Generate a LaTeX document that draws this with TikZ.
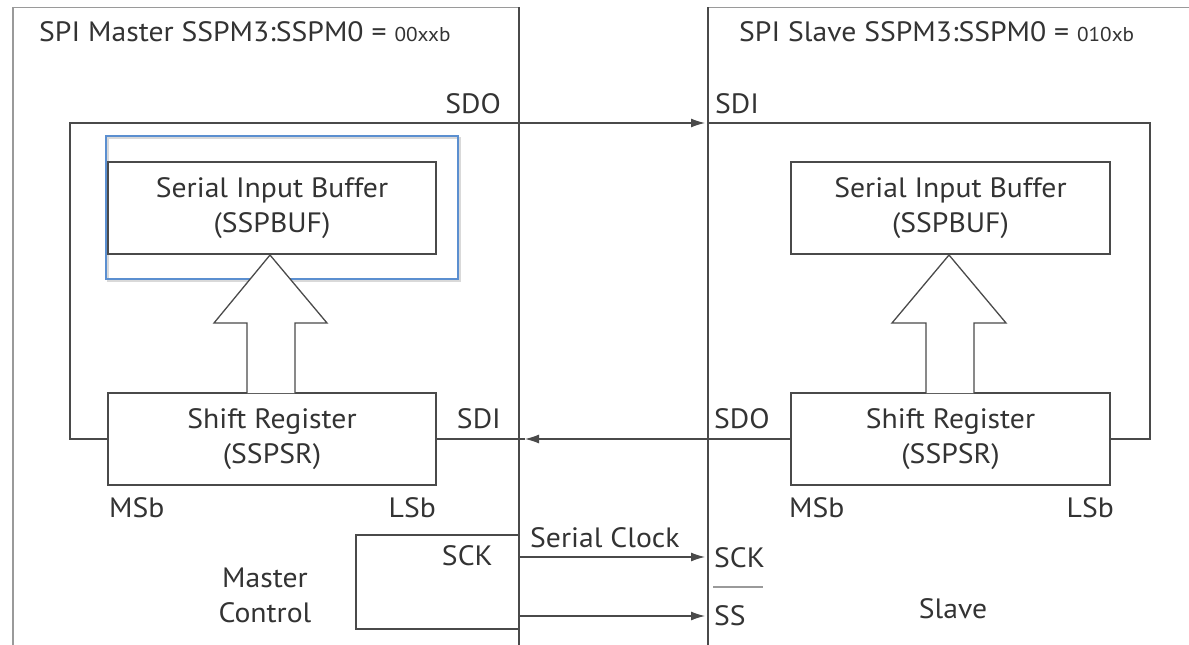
\documentclass[tikz,border=0pt]{standalone}
\usepackage{fontspec}
\setmainfont[FakeStretch=1.06]{PT Sans}
\usetikzlibrary{arrows.meta,positioning,calc}
\definecolor{ln}{HTML}{4A4A4A}
\definecolor{frm}{HTML}{9A9A9A}
\definecolor{txt}{HTML}{333333}
\definecolor{hl}{HTML}{5B8FD0}
\tikzset{
  lbl/.style={font=\fontsize{28}{35}\selectfont, text=txt, inner sep=0pt},
  blk/.style={draw=ln, line width=1.3pt, minimum width=328pt, minimum height=92pt, align=center, lbl},
  wire/.style={draw=ln, line width=1.2pt},
  tip/.style={-{Latex[length=14pt,width=9pt]}},
  hollow/.style={draw=ln, line width=1.3pt, fill=white},
}
\begin{document}
\begin{tikzpicture}[x=1pt,y=-1pt]
\useasboundingbox (0,0) rectangle (1189,645);
% frames
\draw[frm, line width=2pt] (12.5,645) -- (12.5,7);
\draw[frm, line width=0.8pt] (12.5,7) -- (519,7);
\draw[frm, line width=0.8pt] (708,7) -- (1189,7);
\draw[wire] (519,7) -- (519,645);
\draw[wire] (708,7) -- (708,645);
% titles
\node[lbl, anchor=base west] (mt) at (39,41) {SPI Master SSPM3:SSPM0 = {\fontsize{20}{24}\selectfont 00xxb}};
\node[lbl, anchor=base west] (st) at (739,41) {SPI Slave SSPM3:SSPM0 = {\fontsize{20}{24}\selectfont 010xb}};
% highlight
\draw[gray!30, line width=2pt] (108,138) rectangle (460,281);
\draw[hl, line width=1.3pt] (106,136) rectangle (458,279);
% blocks
\node[blk] (mbuf) at (272,208) {Serial Input Buffer\\(SSPBUF)};
\node[blk] (msr) at (272,439) {Shift Register\\(SSPSR)};
\node[blk, minimum width=319pt] (sbuf) at (950.5,208) {Serial Input Buffer\\(SSPBUF)};
\node[blk, minimum width=319pt] (ssr) at (950.5,439) {Shift Register\\(SSPSR)};
% hollow arrows
\draw[hollow] (247,393) -- (247,323) -- (214,323) -- (270,255) -- (327,323) -- (295,323) -- (295,393);
\draw[hollow] (926,393) -- (926,323) -- (892,323) -- (949,255) -- (1006,323) -- (974,323) -- (974,393);
% labels
\node[lbl, anchor=base east] (msdo) at (501,113) {SDO};
\node[lbl, anchor=base west] (ssdi) at (715,113) {SDI};
\node[lbl, anchor=base east] (msdi) at (501,428) {SDI};
\node[lbl, anchor=base west] (ssdo) at (714,428) {SDO};
\node[lbl, anchor=base west] (mmsb) at (109,517) {MSb};
\node[lbl, anchor=base east] (mlsb) at (436,517) {LSb};
\node[lbl, anchor=base west] (smsb) at (789,517) {MSb};
\node[lbl, anchor=base east] (slsb) at (1114,517) {LSb};
\node[lbl, anchor=base east] (msck) at (493,565) {SCK};
\node[lbl, anchor=base west] (sclk) at (530,547) {Serial Clock};
\node[lbl, anchor=base west] (ssck) at (714,567) {SCK};
\node[lbl, anchor=base west] (sss) at (714,625) {SS};
\draw[frm, line width=1.2pt] (713,587) -- (763,587);
\node[lbl, align=center] (mctl) at (265,595) {Master\\Control};
\node[lbl] (slv) at (953,609) {Slave};
% coordinates
\coordinate (ml1) at (70,439);
\coordinate (ml2) at (70,123);
\coordinate (sdiin) at (705,123);
\coordinate (sl0) at (708,123);
\coordinate (sl1) at (1150,123);
\coordinate (sl2) at (1150,439);
\coordinate (sdoin) at (525,439);
\coordinate (ck0) at (519,557);
\coordinate (ck1) at (705,557);
\coordinate (ss0) at (519,616);
\coordinate (ss1) at (705,616);
\coordinate (cb0) at (519,535);
\coordinate (cb1) at (356,535);
\coordinate (cb2) at (356,629);
\coordinate (cb3) at (519,629);
% connectors
\draw[wire, tip] (msr.west) -- (ml1) -- (ml2) -- (sdiin);
\draw[wire] (sl0) -- (sl1) -- (sl2) -- (ssr.east);
\draw[wire, tip] (ssr.west) -- (sdoin);
\draw[wire] (sdoin) -- (msr.east);
\draw[wire, tip] (ck0) -- (ck1);
\draw[wire, tip] (ss0) -- (ss1);
\draw[wire] (cb0) -- (cb1) -- (cb2) -- (cb3);
\end{tikzpicture}
\end{document}
